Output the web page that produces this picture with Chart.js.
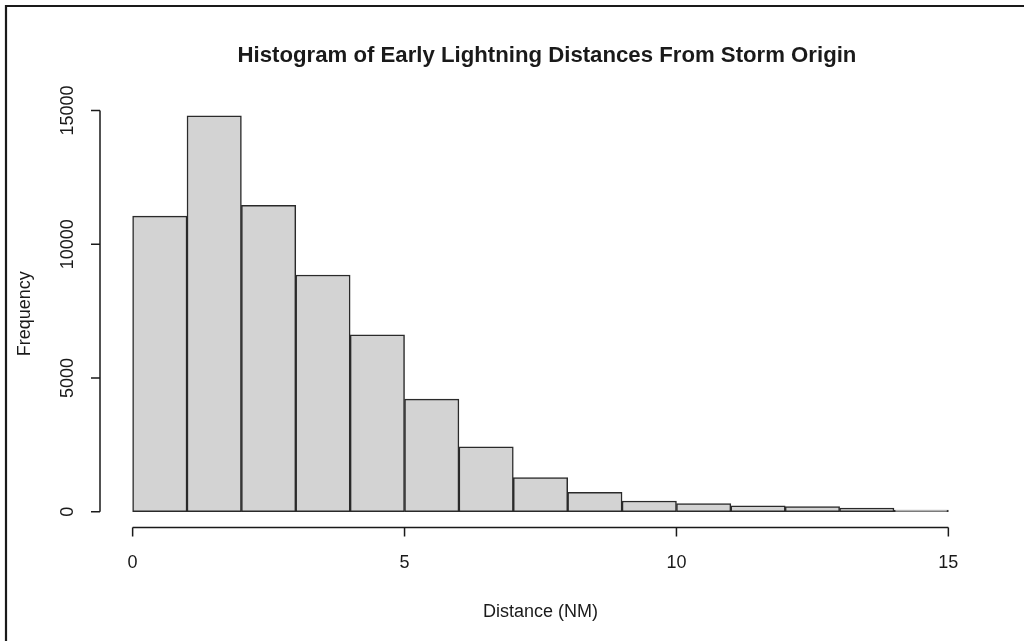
<!DOCTYPE html>
<html>
<head>
<meta charset="utf-8">
<script src="https://cdn.jsdelivr.net/npm/chart.js@4.4.1/dist/chart.umd.min.js"></script>
<style>
  html, body { margin: 0; padding: 0; background: #ffffff; }
  #wrap { width: 1024px; height: 641px; position: relative; }
</style>
</head>
<body>
<div id="wrap"><canvas id="c" width="1024" height="641"></canvas></div>
<script>
// ---- data ----
const binStarts = [0, 1, 2, 3, 4, 5, 6, 7, 8, 9, 10, 11, 12, 13, 14];
const binWidth = 1;
const frequencies = [11050, 14800, 11450, 8850, 6610, 4210, 2420, 1270, 720, 400, 300, 215, 190, 130, 60];
const xTickValues = [0, 5, 10, 15];
const xTickLabels = ['0', '5', '10', '15'];
const yTickValues = [0, 5000, 10000, 15000];
const yTickLabels = ['0', '5000', '10000', '15000'];
const titleText = 'Histogram of Early Lightning Distances From Storm Origin';
const xAxisTitle = 'Distance (NM)';
const yAxisTitle = 'Frequency';

const FONT = '"Liberation Sans", Arial, Helvetica, sans-serif';
const INK = '#1a1a1a';

const xMin = 0, xMax = 15;
const yMax = Math.max(...frequencies);
const xPad = (xMax - xMin) * 0.04;
const yPad = yMax * 0.04;

const points = binStarts.map((s, i) => ({ x: s + binWidth / 2, y: frequencies[i] }));

const rAxesPlugin = {
  id: 'rAxes',
  afterDraw(chart) {
    const ctx = chart.ctx;
    const xs = chart.scales.x, ys = chart.scales.y;
    const area = chart.chartArea;
    ctx.save();
    ctx.strokeStyle = INK;
    ctx.fillStyle = INK;

    // frame lines (top & left)
    ctx.lineWidth = 2.2;
    ctx.beginPath();
    ctx.moveTo(6, 641); ctx.lineTo(6, 6); ctx.lineTo(1024, 6);
    ctx.stroke();
    ctx.lineWidth = 1.5;

    // x axis
    const xa = area.bottom;
    ctx.beginPath();
    ctx.moveTo(xs.getPixelForValue(xTickValues[0]), xa);
    ctx.lineTo(xs.getPixelForValue(xTickValues[xTickValues.length - 1]), xa);
    xTickValues.forEach(v => {
      const px = xs.getPixelForValue(v);
      ctx.moveTo(px, xa); ctx.lineTo(px, xa + 9);
    });
    ctx.stroke();
    ctx.font = '18px ' + FONT;
    ctx.textAlign = 'center';
    ctx.textBaseline = 'alphabetic';
    xTickValues.forEach((v, i) => {
      ctx.fillText(xTickLabels[i], xs.getPixelForValue(v), 568);
    });
    ctx.fillText(xAxisTitle, (area.left + area.right) / 2, 617);

    // y axis
    const ya = area.left;
    ctx.beginPath();
    ctx.moveTo(ya, ys.getPixelForValue(yTickValues[0]));
    ctx.lineTo(ya, ys.getPixelForValue(yTickValues[yTickValues.length - 1]));
    yTickValues.forEach(v => {
      const py = ys.getPixelForValue(v);
      ctx.moveTo(ya, py); ctx.lineTo(ya - 9, py);
    });
    ctx.stroke();
    yTickValues.forEach((v, i) => {
      ctx.save();
      ctx.translate(73, ys.getPixelForValue(v));
      ctx.rotate(-Math.PI / 2);
      ctx.fillText(yTickLabels[i], 0, 0);
      ctx.restore();
    });
    ctx.save();
    ctx.translate(30, (area.top + area.bottom) / 2);
    ctx.rotate(-Math.PI / 2);
    ctx.fillText(yAxisTitle, 0, 0);
    ctx.restore();

    // title
    ctx.font = 'bold 22.2px ' + FONT;
    ctx.fillText(titleText, 547, 62);
    ctx.restore();
  }
};

new Chart(document.getElementById('c'), {
  type: 'bar',
  data: {
    datasets: [{
      data: points,
      backgroundColor: '#d3d3d3',
      borderColor: '#2a2a2a',
      borderWidth: 1.5,
      borderSkipped: false,
      barPercentage: 1.0,
      categoryPercentage: 1.0,
      grouped: false
    }]
  },
  options: {
    responsive: false,
    animation: false,
    devicePixelRatio: 1,
    layout: { padding: { left: 100, right: 43, top: 100, bottom: 113.5 } },
    plugins: {
      legend: { display: false },
      title: { display: false },
      tooltip: { enabled: false }
    },
    scales: {
      x: { type: 'linear', offset: false, min: xMin - xPad, max: xMax + xPad, display: false },
      y: { type: 'linear', min: -yPad, max: yMax + yPad, display: false }
    }
  },
  plugins: [rAxesPlugin]
});
</script>
</body>
</html>
